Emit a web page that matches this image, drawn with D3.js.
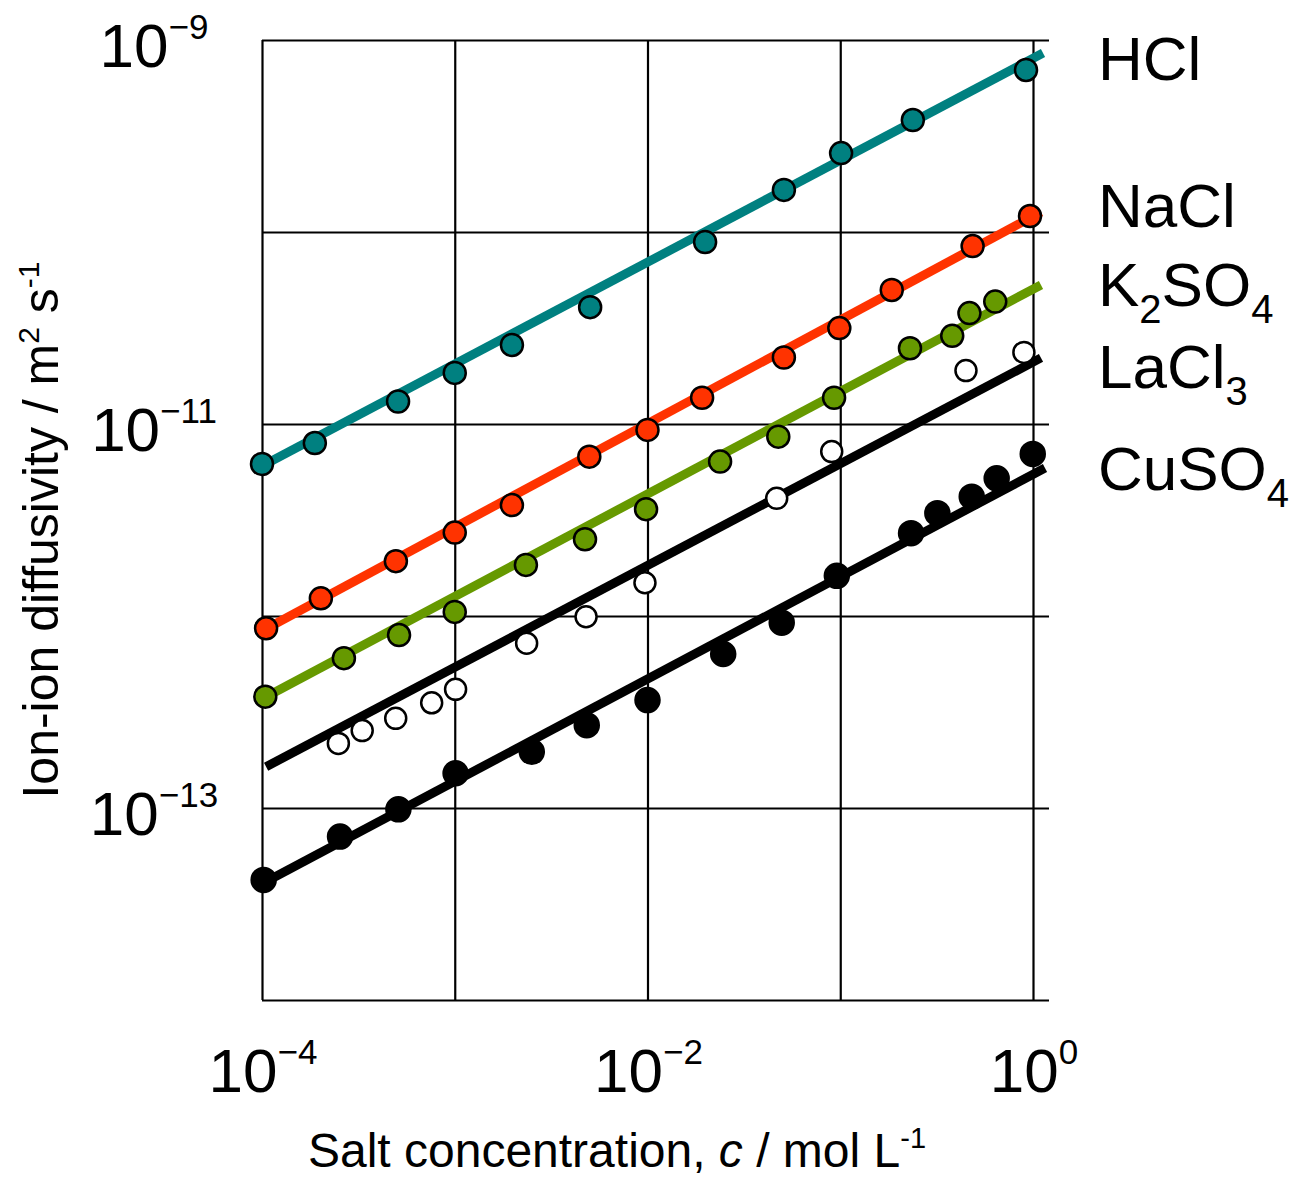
<!DOCTYPE html>
<html>
<head>
<meta charset="utf-8">
<script src="https://cdn.jsdelivr.net/npm/d3@7"></script>
<style>
  html, body { margin: 0; padding: 0; background: #fff; }
  svg { display: block; }
  text { font-family: "Liberation Sans", Arial, Helvetica, sans-serif; fill: #000; }
</style>
</head>
<body>
<svg id="chart" width="1296" height="1177"></svg>
<script>
// Ion-ion diffusivity vs salt concentration (log-log), five salts.

const salts = ["HCl", "NaCl", "K2SO4", "LaCl3", "CuSO4"];

// Concentrations, mol/L
const hclC   = [1e-4, 1.88e-4, 5.08e-4, 1e-3, 1.98e-3, 5.04e-3, 0.0199, 0.051, 0.101, 0.238, 0.92];
const naclC  = [1.05e-4, 2.02e-4, 4.95e-4, 1e-3, 1.98e-3, 4.99e-3, 0.01, 0.0192, 0.051, 0.0989, 0.185, 0.486, 0.965];
const k2so4C = [1.04e-4, 2.66e-4, 5.14e-4, 1e-3, 2.34e-3, 4.74e-3, 9.83e-3, 0.0238, 0.0477, 0.0929, 0.230, 0.381, 0.468, 0.637];
const lacl3C = [2.49e-4, 3.31e-4, 4.94e-4, 7.59e-4, 1.01e-3, 2.36e-3, 4.80e-3, 9.7e-3, 0.0468, 0.0903, 0.449, 0.897];
const cuso4C = [1.02e-4, 2.54e-4, 5.10e-4, 1.01e-3, 2.51e-3, 4.84e-3, 0.01, 0.0247, 0.0497, 0.096, 0.233, 0.319, 0.481, 0.648, 0.997];

// Diffusivities, m^2/s
const hclD   = [6.19e-12, 7.96e-12, 1.31e-11, 1.845e-11, 2.58e-11, 4.06e-11, 8.87e-11, 1.656e-10, 2.576e-10, 3.83e-10, 6.98e-10];
const naclD  = [8.63e-13, 1.236e-12, 1.93e-12, 2.72e-12, 3.78e-12, 6.76e-12, 9.31e-12, 1.37e-11, 2.22e-11, 3.16e-11, 4.99e-11, 8.45e-11, 1.211e-10];
const k2so4D = [3.80e-13, 6.03e-13, 7.96e-13, 1.05e-12, 1.845e-12, 2.51e-12, 3.60e-12, 6.37e-12, 8.59e-12, 1.37e-11, 2.48e-11, 2.88e-11, 3.78e-11, 4.34e-11];
const lacl3D = [2.17e-13, 2.53e-13, 2.93e-13, 3.53e-13, 4.15e-13, 7.21e-13, 9.91e-13, 1.49e-12, 4.10e-12, 7.18e-12, 1.897e-11, 2.36e-11];
const cuso4D = [4.22e-14, 7.10e-14, 9.84e-14, 1.517e-13, 1.963e-13, 2.70e-13, 3.65e-13, 6.34e-13, 9.23e-13, 1.62e-12, 2.70e-12, 3.43e-12, 4.18e-12, 5.21e-12, 6.98e-12];

// Power-law fit lines: [start, end] in concentration and diffusivity
const hclFitC   = [1e-4, 1.127];    const hclFitD   = [6.04e-12, 8.55e-10];
const naclFitC  = [1e-4, 1.10];     const naclFitD  = [8.36e-13, 1.27e-10];
const k2so4FitC = [1e-4, 1.10];     const k2so4FitD = [3.70e-13, 5.30e-11];
const lacl3FitC = [1.05e-4, 1.10];  const lacl3FitD = [1.64e-13, 2.21e-11];
const cuso4FitC = [1.04e-4, 1.154]; const cuso4FitD = [4.12e-14, 5.90e-12];

// Axis decades and tick labels
const xGrid = [1e-4, 1e-3, 1e-2, 1e-1, 1];
const yGrid = [1e-9, 1e-10, 1e-11, 1e-12, 1e-13, 1e-14];
const xTickVals = [1e-4, 1e-2, 1];
const xTickExp  = ["\u22124", "\u22122", "0"];
const yTickVals = [1e-9, 1e-11, 1e-13];
const yTickExp  = ["\u22129", "\u221211", "\u221213"];

// Label text pieces: [main, subscript, main, subscript]
const labelParts = [["HCl"], ["NaCl"], ["K", "2", "SO", "4"], ["LaCl", "3"], ["CuSO", "4"]];
const labelBaselines = [80, 227, 306, 388, 490];

const series = [
  { name: salts[0], c: hclC,   d: hclD,   fc: hclFitC,   fd: hclFitD,   color: "#008080", fill: "#008080", r: 11 },
  { name: salts[1], c: naclC,  d: naclD,  fc: naclFitC,  fd: naclFitD,  color: "#ff3300", fill: "#ff3300", r: 11 },
  { name: salts[2], c: k2so4C, d: k2so4D, fc: k2so4FitC, fd: k2so4FitD, color: "#669900", fill: "#669900", r: 11 },
  { name: salts[3], c: lacl3C, d: lacl3D, fc: lacl3FitC, fd: lacl3FitD, color: "#000000", fill: "#ffffff", r: 10.5 },
  { name: salts[4], c: cuso4C, d: cuso4D, fc: cuso4FitC, fd: cuso4FitD, color: "#000000", fill: "#000000", r: 12 }
];

const svg = d3.select("#chart");
const plotLeft = 262, plotRight = 1033, plotTop = 40, plotBottom = 1000;
const overhang = 16;

const x = d3.scaleLog().domain([1e-4, 1]).range([plotLeft, plotRight]);
const y = d3.scaleLog().domain([1e-14, 1e-9]).range([plotBottom, plotTop]);

// Grid: horizontal decade lines run slightly past the right edge
const gy = svg.append("g")
  .attr("transform", `translate(${plotLeft},0)`)
  .call(d3.axisRight(y).tickValues(yGrid).tickSize(plotRight - plotLeft + overhang).tickFormat(""));
gy.select(".domain").remove();
gy.selectAll("line").attr("stroke", "#000").attr("stroke-width", 2.2);

const gx = svg.append("g")
  .attr("transform", `translate(0,${plotTop})`)
  .call(d3.axisBottom(x).tickValues(xGrid).tickSize(plotBottom - plotTop).tickFormat(""));
gx.select(".domain").remove();
gx.selectAll("line").attr("stroke", "#000").attr("stroke-width", 2.2);

// Fit lines
const line = d3.line().x(p => x(p[0])).y(p => y(p[1]));
svg.append("g").selectAll("path")
  .data(series)
  .join("path")
  .attr("d", s => line(d3.zip(s.fc, s.fd)))
  .attr("fill", "none")
  .attr("stroke", s => s.color)
  .attr("stroke-width", 9)
  .attr("stroke-linecap", "butt");

// Data points
series.forEach(s => {
  svg.append("g").selectAll("circle")
    .data(d3.zip(s.c, s.d))
    .join("circle")
    .attr("cx", p => x(p[0]))
    .attr("cy", p => y(p[1]))
    .attr("r", s.r)
    .attr("fill", s.fill)
    .attr("stroke", "#000")
    .attr("stroke-width", 2.5);
});

// Tick labels with superscript exponents
function powerLabel(g, xpos, ypos, exp) {
  const t = g.append("text")
    .attr("x", xpos).attr("y", ypos)
    .attr("text-anchor", "middle")
    .attr("font-size", 62);
  t.append("tspan").text("10");
  t.append("tspan").attr("font-size", 35).attr("dy", -28).text(exp);
}
const labels = svg.append("g");
xTickVals.forEach((v, i) => powerLabel(labels, x(v) + 1, 1092, xTickExp[i]));
yTickVals.forEach((v, i) => powerLabel(labels, 154, y(v) + 27, yTickExp[i]));

// Salt names at the right
labelParts.forEach((parts, i) => {
  const t = svg.append("text")
    .attr("x", 1098).attr("y", labelBaselines[i])
    .attr("font-size", 62);
  parts.forEach((p, j) => {
    if (j % 2 === 0) {
      t.append("tspan").attr("dy", j === 0 ? 0 : -17).text(p);
    } else {
      t.append("tspan").attr("font-size", 40).attr("dy", 17).text(p);
    }
  });
});

// Axis titles
const xt = svg.append("text")
  .attr("x", 617).attr("y", 1167)
  .attr("text-anchor", "middle")
  .attr("font-size", 48);
xt.append("tspan").text("Salt concentration, ");
xt.append("tspan").attr("font-style", "italic").text("c");
xt.append("tspan").text(" / mol L");
xt.append("tspan").attr("font-size", 29).attr("dy", -19).text("-1");

const yt = svg.append("text")
  .attr("transform", "translate(58,530) rotate(-90)")
  .attr("text-anchor", "middle")
  .attr("font-size", 50);
yt.append("tspan").text("Ion-ion diffusivity / m");
yt.append("tspan").attr("font-size", 30).attr("dy", -19).text("2");
yt.append("tspan").attr("dy", 19).text(" s");
yt.append("tspan").attr("font-size", 30).attr("dy", -19).text("-1");
</script>
</body>
</html>
